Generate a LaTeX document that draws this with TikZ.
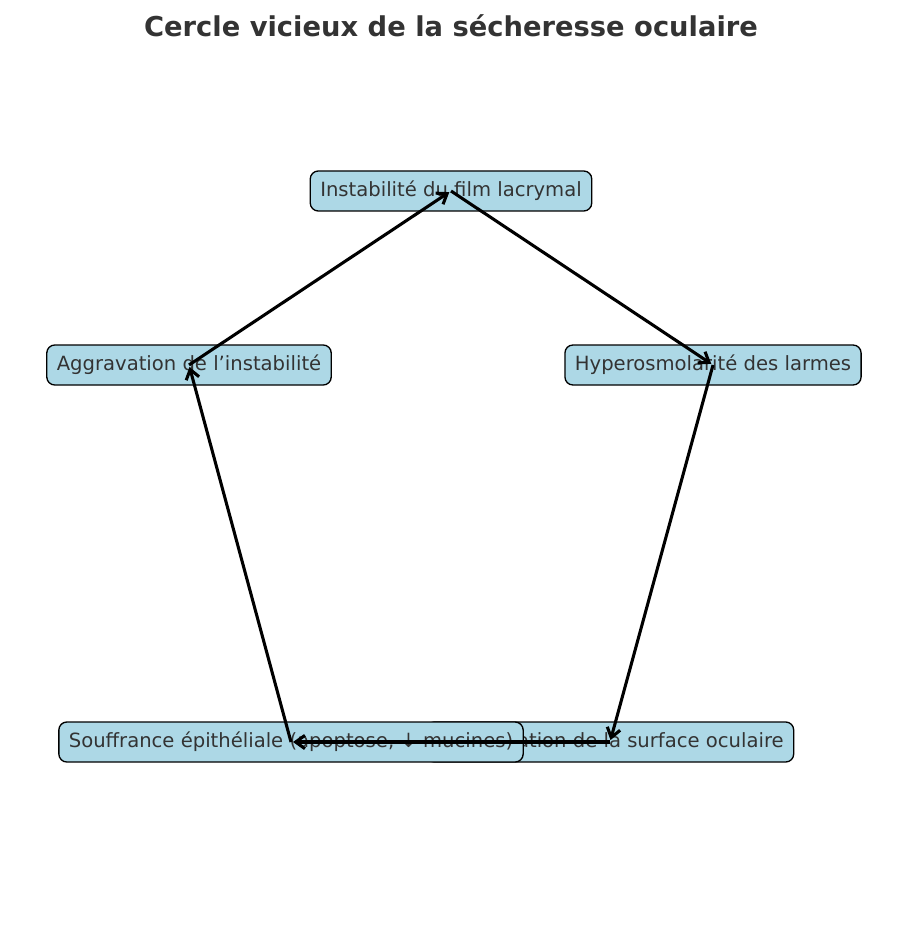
\documentclass[tikz,border=0pt]{standalone}
\usepackage{fontspec}
\setmainfont{DejaVu Sans}
\usetikzlibrary{arrows.meta}
\definecolor{boxblue}{HTML}{ADD8E6}
\definecolor{txtgray}{HTML}{333333}

\begin{document}
\begin{tikzpicture}[x=0.75pt,y=-0.75pt,->,>={Straight Barb[length=7pt,width=10pt]},shorten >=1.5pt,line width=2.3pt,
    main node/.style={rectangle,rounded corners=6pt,draw=black,line width=1pt,fill=boxblue,text=txtgray,font=\fontsize{14.7pt}{17pt}\selectfont,inner xsep=7.5pt,minimum height=30pt,text height=11pt,text depth=3pt}]

            \useasboundingbox (0,0) rectangle (904,930);
            \node[font=\bfseries\fontsize{20.5pt}{24pt}\selectfont,text=txtgray] (title) at (451,26){Cercle vicieux de la sécheresse oculaire};

            \node[main node] (1) at (451,191){Instabilité du film lacrymal};
            \node[main node] (2) at (713,365){Hyperosmolarité des larmes};
            \node[main node] (3) at (610,742){Inflammation de la surface oculaire};
            \node[main node] (4) at (291,742){Souffrance épithéliale (apoptose, ↓ mucines)};
            \node[main node] (5) at (189,365){Aggravation de l’instabilité};

            \path[every node/.style={font=\sffamily\small}]
                (1.center) edge (2.center)
                (2.center) edge (3.center)
                (3.center) edge (4.center)
                (4.center) edge (5.center)
                (5.center) edge (1.center)
            ;
        \end{tikzpicture}
\end{document}
